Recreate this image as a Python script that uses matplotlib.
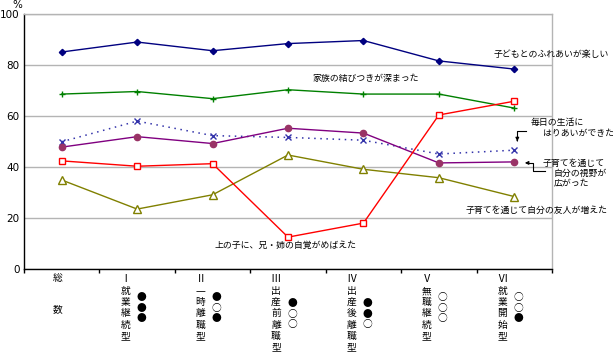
import numpy as np
from matplotlib import pyplot as plt

plt.rcParams['font.family'] = ['Noto Sans CJK JP', 'DejaVu Sans']

# category labels (x axis)
roman = ['', 'Ⅰ', 'Ⅱ', 'Ⅲ', 'Ⅳ', 'Ⅴ', 'Ⅵ']
names = ['総数', '就業継続型', '一時離職型', '出産前離職型', '出産後離職型', '無職継続型', '就業開始型']
marks = ['', '●●●', '●○●', '●○○', '●●○', '○○○', '○○●']

# series values (%)
fureai = [85.1, 89.0, 85.6, 88.4, 89.6, 81.6, 78.4]
kazoku = [68.6, 69.6, 66.8, 70.3, 68.6, 68.6, 63.1]
hariai = [49.9, 58.0, 52.3, 51.6, 50.5, 45.1, 46.6]
shiya = [47.8, 51.9, 49.2, 55.2, 53.3, 41.6, 42.0]
jikaku = [42.4, 40.3, 41.3, 12.5, 18.0, 60.4, 65.8]
yujin = [34.9, 23.5, 29.1, 44.7, 39.1, 35.8, 28.4]

PX = 0.72  # points per pixel at dpi 100
FS = 6.4

fig = plt.figure(figsize=(6.13, 3.53), dpi=100)
ax = fig.add_axes([24 / 613, 1 - 269 / 353, 528 / 613, 255 / 353])

x = np.arange(len(names))

ax.plot(x, fureai, color='#000080', lw=1, marker='D', ms=3.2, zorder=3)
ax.plot(x, kazoku, color='#008000', lw=1, marker='+', ms=5, mew=1, zorder=3)
ax.plot(x, hariai, color='#3333aa', lw=1.1, ls=(0, (1, 3)), marker='x', ms=4, mew=1, zorder=3)
ax.plot(x, shiya, color='#800080', lw=1, marker='o', ms=4.5, mfc='#993366', mec='#993366', zorder=3)
ax.plot(x, jikaku, color='#ff0000', lw=1, marker='s', ms=5, mfc='white', mec='#ff0000', mew=1, zorder=4)
ax.plot(x, yujin, color='#808000', lw=1, marker='^', ms=5.5, mfc='white', mec='#808000', mew=1, zorder=3)

ax.set_xlim(-0.5, 6.5)
ax.set_ylim(0, 100)
ax.set_yticks([0, 20, 40, 60, 80, 100])
ax.yaxis.grid(True, color='#b4b4b4', lw=1)
ax.set_axisbelow(True)
ax.tick_params(axis='y', length=0, pad=3, labelsize=7.5)
for lab in ax.get_yticklabels():
    lab.set_family('DejaVu Sans')

ax.set_xticks(x)
ax.set_xticklabels([])
ax.tick_params(axis='x', which='major', length=0)
ax.set_xticks(np.arange(-0.5, 7, 1), minor=True)
ax.tick_params(axis='x', which='minor', length=4 * PX, width=1, direction='out')

for s in ['left', 'bottom']:
    ax.spines[s].set_color('black')
    ax.spines[s].set_linewidth(1)
for s in ['top', 'right']:
    ax.spines[s].set_color('#b4b4b4')
    ax.spines[s].set_linewidth(1)

ax.text(17 / 613, 1 - 5 / 353, '%', transform=fig.transFigure, ha='center', va='center',
        fontsize=7.5, family='DejaVu Sans')

# x labels: roman numeral, vertical name, circles
def put(ch, i, dx, dy, fs=7):
    ax.annotate(ch, xy=(i, 0), xycoords=('data', 'axes fraction'),
                xytext=(dx * PX, -dy * PX), textcoords='offset points',
                ha='center', va='center', fontsize=fs, annotation_clip=False)

put('総', 0, -4, 9)
put('数', 0, -4, 40)
for i in range(1, len(names)):
    put(roman[i], i, -12, 10, fs=7.5)
    n = len(names[i])
    for k, ch in enumerate(names[i]):
        put(ch, i, -12, 22 + 11.2 * k)
    c = 22 + 11.2 * (n - 1) / 2 - 5.5
    for k, m in enumerate(marks[i]):
        put(m, i, 4, c + 10.5 * (k - 1), fs=7)

# series labels
ax.text(5.73, 84.3, '子どもとのふれあいが楽しい', fontsize=FS, va='center')
ax.text(3.33, 74.9, '家族の結びつきが深まった', fontsize=FS, va='center')
ax.text(6.21, 57.3, '毎日の生活に', fontsize=FS, va='center')
ax.text(6.38, 52.9, 'はりあいができた', fontsize=FS, va='center')
ax.text(6.37, 41.6, '子育てを通じて', fontsize=FS, va='center')
ax.text(6.52, 37.3, '自分の視野が', fontsize=FS, va='center')
ax.text(6.52, 33.3, '広がった', fontsize=FS, va='center')
ax.text(5.36, 23.1, '子育てを通じて自分の友人が増えた', fontsize=FS, va='center')
ax.text(2.03, 9.4, '上の子に、兄・姉の自覚がめばえた', fontsize=FS, va='center')

# leader lines
ax.plot([6.16, 6.04, 6.04], [54.1, 54.1, 50.5], color='black', lw=0.8, clip_on=False)
ax.annotate('', xy=(6.04, 49.0), xytext=(6.04, 51.5),
            arrowprops=dict(arrowstyle='-|>', color='black', lw=0.8, mutation_scale=5),
            annotation_clip=False)
ax.plot([6.41, 6.25, 6.25, 6.2], [38.4, 38.4, 41.6, 41.6], color='black', lw=0.8, clip_on=False)
ax.annotate('', xy=(6.14, 41.6), xytext=(6.21, 41.6),
            arrowprops=dict(arrowstyle='-|>', color='black', lw=0.8, mutation_scale=5),
            annotation_clip=False)

fig.savefig('out.png', dpi=100)
